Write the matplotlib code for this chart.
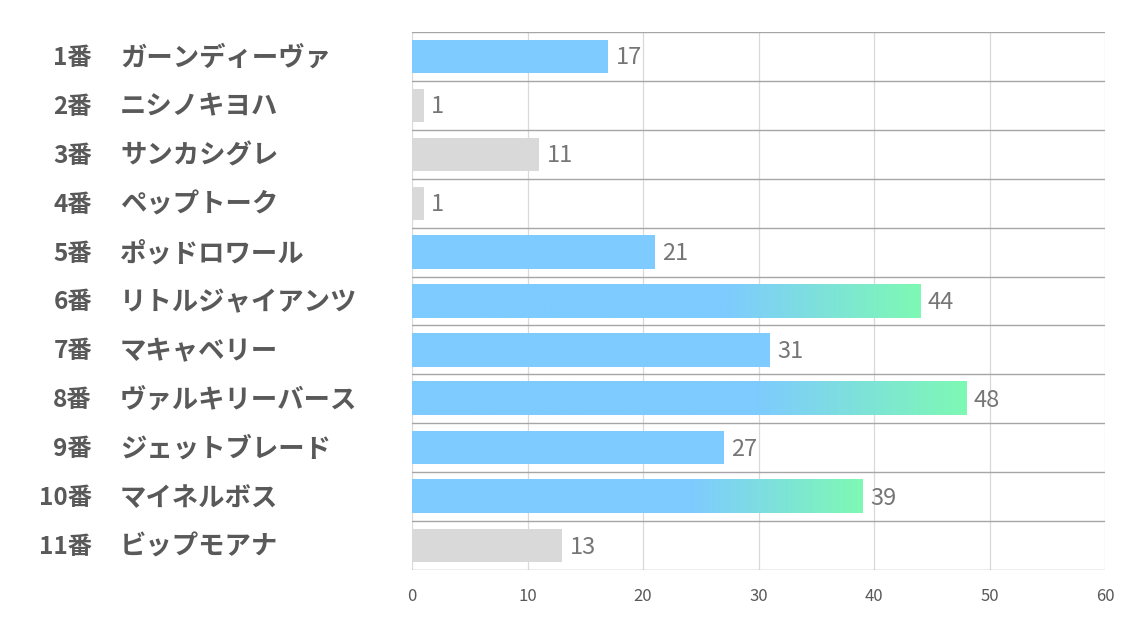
import numpy as np
import matplotlib
matplotlib.use("Agg")
import matplotlib.pyplot as plt
from matplotlib.colors import LinearSegmentedColormap

plt.rcParams['font.family'] = ['Noto Sans CJK JP', 'DejaVu Sans']

numbers = ["1番", "2番", "3番", "4番", "5番", "6番", "7番", "8番", "9番", "10番", "11番"]
names = ["ガーンディーヴァ", "ニシノキヨハ", "サンカシグレ", "ペップトーク", "ポッドロワール",
         "リトルジャイアンツ", "マキャベリー", "ヴァルキリーバース", "ジェットブレード",
         "マイネルボス", "ビップモアナ"]
values = [17, 1, 11, 1, 21, 44, 31, 48, 27, 39, 13]
kinds = ["blue", "gray", "gray", "gray", "blue", "grad", "blue", "grad", "blue", "grad", "gray"]
xticks = [0, 10, 20, 30, 40, 50, 60]

blue = "#7dcbff"
green = "#7ef9b4"
gray = "#d9d9d9"
grad_cmap = LinearSegmentedColormap.from_list("bg", [(0, blue), (0.62, blue), (1, green)])

fig = plt.figure(figsize=(11.34, 6.23), dpi=100)
ax = fig.add_axes([412 / 1134, 1 - 570 / 623, (1105 - 412) / 1134, (570 - 32) / 623])

bar_h = 0.68
for i, (v, k) in enumerate(zip(values, kinds)):
    if k == "grad":
        grad = np.linspace(0, 1, 256).reshape(1, -1)
        ax.imshow(grad, cmap=grad_cmap, aspect="auto", interpolation="bilinear",
                  extent=[0, v, i + bar_h / 2, i - bar_h / 2], zorder=2)
    else:
        ax.barh(i, v, height=bar_h, color=blue if k == "blue" else gray, zorder=2)
    ax.text(v + 0.65, i + 0.03, str(v), va="center", ha="left", fontsize=17, color="#767676")

ax.set_xlim(0, 60)
ax.set_ylim(len(values) - 0.5, -0.5)
ax.set_xticks(xticks)
ax.set_xticklabels([str(t) for t in xticks], fontsize=12, color="#595959")
ax.set_yticks([])
ax.tick_params(axis="x", length=0, pad=13)

# vertical grid
for t in xticks:
    ax.axvline(t, color="#d9d9d9", lw=0.9, zorder=1)
# row separators
for b in np.arange(-0.5, len(values), 1.0):
    ax.axhline(b, color="#a6a6a6", lw=1.0, zorder=3)

for s in ax.spines.values():
    s.set_visible(False)

# category labels
for i, (n, name) in enumerate(zip(numbers, names)):
    ty = ax.transData.transform((0, i + 0.03))[1]
    fy = ty / fig.bbox.height
    fig.text(92 / 1134, fy, n, ha="right", va="center", fontsize=17.5,
             fontweight="bold", color="#595959")
    fig.text(120 / 1134, fy, name, ha="left", va="center", fontsize=19,
             fontweight="bold", color="#595959")

fig.savefig("out.png", dpi=100)
